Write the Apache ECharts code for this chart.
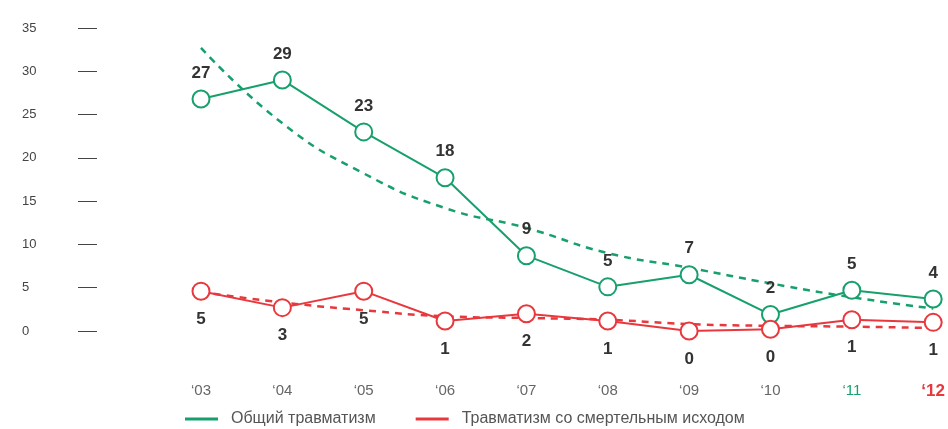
<!DOCTYPE html>
<html><head><meta charset="utf-8">
<script src="https://cdn.jsdelivr.net/npm/echarts@6/dist/echarts.min.js"></script>
<style>html,body{margin:0;padding:0;background:#fff}#c{width:948px;height:429px}</style>
</head><body><div id="c"></div>
<script>
const categories = ['03','04','05','06','07','08','09','10','11','12'];
const totalValues = [26.8, 29.0, 23.0, 17.7, 8.7, 5.1, 6.5, 1.9, 4.7, 3.7];
const totalLabels = ['27','29','23','18','9','5','7','2','5','4'];
const fatalValues = [4.6, 2.7, 4.6, 1.15, 2.0, 1.15, 0.0, 0.2, 1.3, 1.0];
const fatalLabels = ['5','3','5','1','2','1','0','0','1','1'];
const totalTrend = [32.7, 24.0, 18.2, 14.2, 11.9, 9.0, 7.3, 5.5, 3.9, 2.6];
const fatalTrend = [4.5, 3.3, 2.4, 1.7, 1.5, 1.3, 0.8, 0.6, 0.5, 0.35];
const yTicks = [0, 5, 10, 15, 20, 25, 30, 35];
const seriesNames = ['Общий травматизм', 'Травматизм со смертельным исходом'];

const GREEN = '#17a06c', RED = '#e8383d';
const chart = echarts.init(document.getElementById('c'));
chart.setOption({
  animation: false,
  grid: { left: 201, right: 13, top: 28, bottom: 98 },
  legend: {
    data: [
      { name: seriesNames[0], itemStyle: { color: GREEN, borderWidth: 0 } },
      { name: seriesNames[1], itemStyle: { color: RED, borderWidth: 0 } }
    ],
    left: 180, top: 406, itemWidth: 33, itemHeight: 3, itemGap: 40,
    icon: 'rect',
    textStyle: { fontFamily: 'Liberation Sans Narrow, Liberation Sans, sans-serif', fontSize: 16, color: '#555', padding: [0,0,0,8] }
  },
  xAxis: {
    type: 'category', data: categories, boundaryGap: false,
    axisLine: { show: false }, axisTick: { show: false },
    axisLabel: {
      margin: 52,
      formatter: function (v, i) {
        if (i === categories.length - 1) return '{r|‘' + v + '}';
        if (i === categories.length - 2) return '{g|‘' + v + '}';
        return '{n|‘' + v + '}';
      },
      rich: {
        n: { color: '#666', fontSize: 15, fontFamily: 'Liberation Sans Narrow, Liberation Sans, sans-serif' },
        g: { color: GREEN, fontSize: 15, fontFamily: 'Liberation Sans Narrow, Liberation Sans, sans-serif' },
        r: { color: RED, fontSize: 17, fontWeight: 'bold', fontFamily: 'Liberation Sans, sans-serif' }
      }
    }
  },
  yAxis: {
    type: 'value', min: yTicks[0], max: yTicks[yTicks.length - 1], interval: 5,
    offset: 104, splitLine: { show: false },
    axisLine: { show: false },
    axisTick: { show: true, length: 19, lineStyle: { color: '#444', width: 1 } },
    axisLabel: { align: 'left', margin: 75, color: '#444', fontSize: 13, fontFamily: 'Liberation Sans, sans-serif' }
  },
  series: [
    { type: 'line', data: totalTrend, smooth: true, symbol: 'none', z: 1, silent: true,
      lineStyle: { color: GREEN, width: 2.5, type: [7, 6] } },
    { type: 'line', data: fatalTrend, smooth: true, symbol: 'none', z: 1, silent: true,
      lineStyle: { color: RED, width: 2.5, type: [7, 6] } },
    { name: seriesNames[0], type: 'line', data: totalValues, z: 3,
      symbol: 'circle', symbolSize: 17, color: GREEN,
      lineStyle: { color: GREEN, width: 2 },
      itemStyle: { color: '#fff', borderColor: GREEN, borderWidth: 2 },
      label: { show: true, position: 'top', distance: 8, color: '#333', fontSize: 17, fontWeight: 'bold',
        fontFamily: 'Liberation Sans, sans-serif', formatter: p => totalLabels[p.dataIndex] } },
    { name: seriesNames[1], type: 'line', data: fatalValues, z: 3,
      symbol: 'circle', symbolSize: 17, color: RED,
      lineStyle: { color: RED, width: 2 },
      itemStyle: { color: '#fff', borderColor: RED, borderWidth: 2 },
      label: { show: true, position: 'bottom', distance: 10, color: '#333', fontSize: 17, fontWeight: 'bold',
        fontFamily: 'Liberation Sans, sans-serif', formatter: p => fatalLabels[p.dataIndex] } }
  ]
});
</script></body></html>
